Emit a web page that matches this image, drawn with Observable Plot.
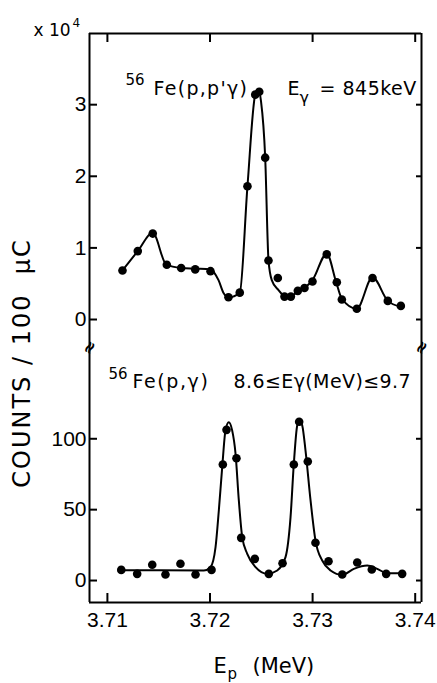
<!DOCTYPE html>
<html><head><meta charset="utf-8">
<script src="https://cdn.jsdelivr.net/npm/d3@7"></script>
<script src="https://cdn.jsdelivr.net/npm/@observablehq/plot@0.6"></script>
<style>
body{margin:0;background:#fff;}
#chart{position:relative;width:437px;height:683px;font-family:"DejaVu Sans",sans-serif;color:#000;}
#chart svg{display:block;}
#ylab{position:absolute;left:22px;top:363px;transform:translate(-50%,-50%) rotate(-90deg);white-space:pre;font-size:24px;letter-spacing:2px;line-height:1;}
</style></head><body>
<div id="chart"><div id="ylab">COUNTS / 100  μC</div></div>
<script>
// ---- data ----
const xTicks = [3.71, 3.72, 3.73, 3.74];
const topTicks = [0, 1, 2, 3];
const botTicks = [0, 50, 100];

// 56Fe(p,p'γ), Eγ = 845 keV  (counts ×10^4 per 100 μC)
const topEp = [3.71147,3.71296,3.71442,3.71579,3.71719,3.71856,3.72005,3.72180,3.72290,3.72365,3.72441,3.72480,3.72538,3.72570,3.72661,3.72726,3.72788,3.72856,3.72921,3.72999,3.73138,3.73236,3.73285,3.73431,3.73584,3.73733,3.73860];
const topCounts = [0.685,0.955,1.20,0.765,0.72,0.70,0.675,0.31,0.375,1.86,3.14,3.18,2.26,0.825,0.58,0.32,0.32,0.40,0.44,0.53,0.91,0.52,0.28,0.15,0.58,0.26,0.19];
// hand-drawn curve through them
const topFitEp = [3.71147,3.71296,3.71442,3.71573,3.71719,3.71856,3.72002,3.72083,3.72132,3.72180,3.72290,3.72365,3.72441,3.72473,3.72497,3.72538,3.72570,3.72602,3.72668,3.72733,3.72797,3.72863,3.72928,3.72999,3.73138,3.73230,3.73285,3.73431,3.73584,3.73733,3.73854];
const topFitCounts = [0.685,0.955,1.21,0.77,0.72,0.71,0.70,0.55,0.37,0.31,0.375,1.86,3.14,3.21,3.05,2.26,0.83,0.55,0.41,0.32,0.33,0.40,0.45,0.55,0.92,0.52,0.29,0.15,0.59,0.26,0.18];

// 56Fe(p,γ), 8.6 ≤ Eγ ≤ 9.7 MeV (counts per 100 μC)
const botEp = [3.71135,3.71290,3.71437,3.71566,3.71712,3.71859,3.72015,3.72125,3.72161,3.72258,3.72304,3.72437,3.72573,3.72707,3.72817,3.72869,3.72953,3.73028,3.73155,3.73289,3.73435,3.73577,3.73717,3.73873];
const botCounts = [7.5,4.7,11.1,4.2,11.8,4.2,7.5,81.9,106.3,86.3,30.1,15.3,4.7,12.2,81.9,112,84,26.6,13.6,4.2,12.7,7.8,4.7,4.7];
const botFitEp = [3.71135,3.71518,3.71940,3.72005,3.72054,3.72086,3.72119,3.72151,3.72183,3.72216,3.72249,3.72281,3.72314,3.72363,3.72444,3.72558,3.72655,3.72736,3.72785,3.72817,3.72850,3.72872,3.72899,3.72931,3.72980,3.73028,3.73094,3.73175,3.73289,3.73402,3.73532,3.73630,3.73727,3.73873];
const botFitCounts = [7.3,7.2,7.1,9.4,23.5,49.4,80,105.9,111.7,105.9,89.4,56.5,30.6,18.8,9.4,4.7,7.1,16.5,44.7,82.4,109.4,113,109.4,91.7,56.5,28.2,14.1,7.1,4.0,8.2,10.6,8.2,5.2,5.2];

// ---- tables ----
const toRows = (xs, ys) => xs.map((x, i) => ({x, y: ys[i]}));
const topPts = toRows(topEp, topCounts), topFit = toRows(topFitEp, topFitCounts);
const botPts = toRows(botEp, botCounts), botFit = toRows(botFitEp, botFitCounts);

const xDomain = [3.708255, 3.740614];
const topDomain = [-0.363, 3.994];
const botDomain = [-15.5, 165.8];
const font = "DejaVu Sans";
const tickFont = "Liberation Sans";
const common = {
  width: 437, marginLeft: 89, marginRight: 16,
  x: {domain: xDomain, label: null},
  style: {fontFamily: tickFont, fontSize: "21px", color: "#000", background: "transparent", overflow: "visible"}
};
const spacing = new Map();
const txt = (s, o, ls = 0) => {
  if (ls) spacing.set(s, ls);
  return Plot.text([s], {text: d => d, textAnchor: "start", lineAnchor: "bottom", fill: "#000", fontFamily: font, ...o});
};

const topPlot = Plot.plot({
  ...common, height: 345, marginTop: 33, marginBottom: 0,
  y: {domain: topDomain, label: null},
  marks: [
    Plot.ruleX(xDomain, {strokeWidth: 2}),
    Plot.ruleY([topDomain[1]], {strokeWidth: 2}),
    Plot.axisY(topTicks, {anchor: "left", tickSize: -8, tickPadding: 11, strokeWidth: 2, tickFormat: d3.format("d")}),
    Plot.axisY(topTicks, {anchor: "right", tickSize: -6, tickFormat: () => "", strokeWidth: 2}),
    Plot.axisX(xTicks, {anchor: "top", tickSize: -8, tickFormat: () => "", strokeWidth: 2}),
    Plot.line(topFit, {x: "x", y: "y", curve: "monotone-x", strokeWidth: 2, stroke: "#000"}),
    Plot.dot(topPts, {x: "x", y: "y", r: 4.3, fill: "#000"}),
    txt("x 10", {frameAnchor: "top-left", dx: -56, dy: 2, fontSize: 17}),
    txt("4", {frameAnchor: "top-left", dx: -17, dy: -7, fontSize: 12}),
    txt("56", {frameAnchor: "top-left", dx: 36, dy: 51, fontSize: 15}),
    txt("Fe(p,p'γ)", {frameAnchor: "top-left", dx: 64, dy: 61, fontSize: 19}, 1.3),
    txt("E", {frameAnchor: "top-left", dx: 198, dy: 61, fontSize: 19}),
    txt("γ", {frameAnchor: "top-left", dx: 210, dy: 69, fontSize: 16}),
    txt("= 845keV", {frameAnchor: "top-left", dx: 230, dy: 61, fontSize: 19}, 0.5),
    txt("≈", {frameAnchor: "bottom-left", textAnchor: "middle", lineAnchor: "middle", rotate: -60, fontSize: 17, fontWeight: "bold", dy: 2}),
    txt("≈", {frameAnchor: "bottom-right", textAnchor: "middle", lineAnchor: "middle", rotate: -60, fontSize: 17, fontWeight: "bold", dy: 2})
  ]
});

const botPlot = Plot.plot({
  ...common, height: 338, marginTop: 0, marginBottom: 81,
  y: {domain: botDomain, label: null},
  marks: [
    Plot.ruleX(xDomain, {strokeWidth: 2}),
    Plot.ruleY([botDomain[0]], {strokeWidth: 2}),
    Plot.axisY(botTicks, {anchor: "left", tickSize: -8, tickPadding: 11, strokeWidth: 2, tickFormat: d3.format("d")}),
    Plot.axisY(botTicks, {anchor: "right", tickSize: -6, tickFormat: () => "", strokeWidth: 2}),
    Plot.axisX(xTicks, {anchor: "bottom", tickSize: -9, tickPadding: 19, tickFormat: d3.format(".2f"), strokeWidth: 2}),
    Plot.line(botFit, {x: "x", y: "y", curve: "monotone-x", strokeWidth: 2, stroke: "#000"}),
    Plot.dot(botPts, {x: "x", y: "y", r: 4.3, fill: "#000"}),
    txt("56", {frameAnchor: "top-left", dx: 19, dy: 33, fontSize: 15}),
    txt("Fe(p,γ)", {frameAnchor: "top-left", dx: 43, dy: 42, fontSize: 19}, 1.6),
    txt("8.6≤Eγ(MeV)≤9.7", {frameAnchor: "top-left", dx: 144, dy: 42, fontSize: 19}, 0.4),
    txt("E", {frameAnchor: "bottom", dx: -42, dy: 70, fontSize: 21}),
    txt("p", {frameAnchor: "bottom", dx: -28, dy: 76, fontSize: 15}),
    txt("(MeV)", {frameAnchor: "bottom", dx: -3, dy: 70, fontSize: 21})
  ]
});

const chart = document.getElementById("chart");
chart.appendChild(topPlot);
chart.appendChild(botPlot);
chart.querySelectorAll("svg text").forEach(t => {
  const ls = spacing.get(t.textContent);
  if (ls) t.style.letterSpacing = ls + "px";
});
</script>
</body></html>
